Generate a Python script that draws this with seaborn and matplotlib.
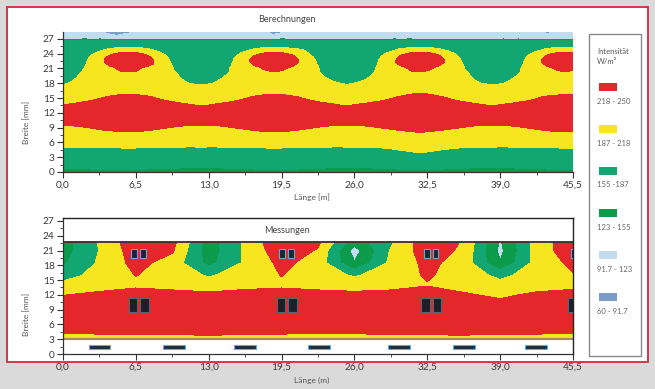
import numpy as np
import matplotlib
matplotlib.use("Agg")
import matplotlib.pyplot as plt
import matplotlib.tri as mtri
from matplotlib.patches import Rectangle
from matplotlib.ticker import FuncFormatter, MultipleLocator
import seaborn as sns

# intensity classes in W/m²
levels = [60, 91.7, 123, 155, 187, 218, 250]
band_colors = ["#7b9bcb", "#c3dbee", "#0b9b4b", "#12a673", "#f6e51f", "#e5272b"]
legend_labels = ["218 - 250", "187 - 218", "155 -187", "123 - 155", "91.7 - 123", "60 - 91.7"]

x_ticks = [0.0, 6.5, 13.0, 19.5, 26.0, 32.5, 39.0, 45.5]
y_ticks = [0, 3, 6, 9, 12, 15, 18, 21, 24, 27]

# Berechnungen (calculated field)
calc_x = [-0.65, 0.975, 2.6, 4.225, 5.85, 7.475, 9.1, 10.725, 12.35, 13.975,
          15.6, 17.225, 18.85, 20.475, 22.1, 23.725, 25.35, 26.975, 28.6, 30.225,
          31.85, 33.475, 35.1, 36.725, 38.35, 39.975, 41.6, 43.225, 44.85, 46.475]
calc_y = [0, 2.5, 4.5, 7, 9, 11, 13, 15, 17, 19, 21, 22.5, 24, 25.5, 26.6, 27.1, 28.4]
calc_z = [
    [150, 150, 151, 151, 152, 151, 150, 149, 148, 149, 150, 151, 152, 151, 150, 149, 148, 149, 150, 151, 152, 151, 150, 149, 148, 149, 150, 151, 152, 151],
    [167, 167, 168, 168, 169, 168, 168, 167, 166, 167, 168, 168, 169, 168, 168, 167, 166, 167, 168, 169, 170, 169, 168, 167, 166, 167, 168, 168, 169, 168],
    [182, 182, 183, 183, 184, 183, 183, 182, 182, 182, 183, 183, 184, 183, 183, 182, 182, 183, 184, 188, 192, 188, 184, 183, 182, 182, 183, 183, 184, 183],
    [204, 205, 206, 207, 208, 207, 206, 205, 204, 205, 206, 207, 208, 207, 206, 205, 204, 205, 206, 207, 209, 207, 206, 205, 204, 205, 206, 207, 208, 207],
    [213, 215, 219, 223, 225, 223, 219, 215, 213, 215, 219, 223, 225, 223, 219, 215, 213, 215, 219, 223, 226, 223, 219, 215, 213, 215, 219, 223, 225, 223],
    [232, 234, 237, 239, 240, 239, 237, 234, 232, 234, 237, 239, 240, 239, 237, 234, 232, 234, 237, 239, 241, 239, 237, 234, 232, 234, 237, 239, 240, 239],
    [221, 226, 231, 236, 238, 236, 231, 226, 222, 226, 231, 236, 238, 236, 231, 226, 222, 226, 231, 236, 239, 236, 231, 226, 222, 226, 231, 236, 238, 236],
    [205, 208, 214, 222, 226, 222, 214, 208, 205, 208, 214, 222, 226, 222, 214, 208, 205, 208, 214, 222, 228, 222, 214, 208, 205, 208, 214, 222, 226, 222],
    [190, 194, 199, 204, 205, 204, 199, 194, 192, 194, 199, 204, 205, 204, 199, 194, 192, 194, 199, 204, 205, 204, 199, 194, 192, 194, 199, 204, 205, 204],
    [178, 186, 198, 207, 209, 207, 198, 186, 180, 186, 198, 207, 209, 207, 198, 186, 180, 186, 198, 207, 209, 207, 198, 186, 180, 186, 198, 207, 209, 207],
    [168, 176, 197, 214, 223, 214, 197, 176, 168, 176, 197, 214, 223, 214, 197, 176, 168, 176, 197, 214, 223, 214, 197, 176, 168, 176, 197, 214, 223, 214],
    [165, 172, 194, 228, 233, 228, 194, 172, 165, 172, 194, 228, 233, 228, 194, 172, 165, 172, 194, 228, 233, 228, 194, 172, 165, 172, 194, 228, 233, 228],
    [165, 168, 185, 214, 224, 214, 185, 168, 165, 168, 185, 214, 224, 214, 185, 168, 165, 168, 185, 214, 224, 214, 185, 168, 165, 168, 185, 214, 224, 214],
    [163, 164, 168, 177, 182, 177, 168, 164, 163, 164, 168, 177, 182, 177, 168, 164, 163, 164, 168, 177, 182, 177, 168, 164, 163, 164, 168, 177, 182, 177],
    [158, 158, 159, 160, 161, 160, 159, 158, 158, 158, 159, 160, 161, 160, 159, 158, 158, 158, 159, 160, 161, 160, 159, 158, 158, 158, 159, 160, 161, 160],
    [112, 112, 113, 112, 111, 110, 111, 112, 113, 112, 111, 110, 112, 113, 112, 111, 110, 111, 112, 113, 112, 111, 110, 111, 112, 113, 112, 111, 110, 111],
    [110, 108, 104, 88, 89, 104, 108, 110, 110, 108, 106, 104, 89, 100, 106, 108, 110, 110, 108, 106, 106, 108, 110, 108, 108, 106, 102, 89, 102, 106],
]

# Messungen (measured field)
meas_x = [0, 3.25, 6.5, 9.75, 13, 16.25, 19.5, 22.75, 26, 29.25, 32.5, 35.75, 39, 42.25, 45.5]
meas_y = [3, 5, 8.5, 12, 14, 16, 18.5, 21, 22.7]
meas_z = [
    [205, 206, 205, 204, 204, 205, 206, 205, 205, 206, 205, 204, 205, 206, 205],
    [228, 229, 230, 233, 240, 231, 229, 228, 229, 230, 234, 238, 231, 229, 228],
    [240, 241, 242, 242, 242, 241, 242, 241, 240, 241, 242, 242, 240, 241, 241],
    [217, 225, 232, 228, 226, 230, 232, 228, 226, 228, 235, 222, 212, 224, 228],
    [196, 205, 212, 208, 200, 208, 212, 208, 204, 208, 216, 206, 196, 205, 210],
    [174, 198, 219, 203, 184, 200, 219, 200, 184, 200, 222, 202, 180, 200, 216],
    [150, 192, 228, 205, 145, 192, 226, 205, 125, 195, 226, 205, 125, 200, 225],
    [142, 188, 235, 222, 138, 192, 238, 215, 110, 190, 236, 212, 115, 200, 238],
    [140, 190, 240, 228, 140, 192, 245, 225, 138, 182, 240, 215, 120, 200, 240],
]

# luminaires and floor strips in the measured panel
lamp_x = [6.75, 19.95, 32.85, 45.95]
lamp_top_y = 20.35
lamp_mid_y = 9.95
strip_x = [3.25, 9.9, 16.2, 22.85, 29.95, 35.75, 42.2]
strip_y = 1.5

sns.set_theme(style="ticks")
plt.rcParams["font.family"] = ["Lato", "DejaVu Sans"]

W, H = 655, 389
fig = plt.figure(figsize=(W / 100, H / 100), dpi=100)
fig.patch.set_facecolor("#dadada")


def fx(px):
    return px / W


def fy(py):
    return 1 - py / H


fig.patches.append(Rectangle((fx(7), fy(362)), fx(648) - fx(7), fy(7) - fy(362),
                             transform=fig.transFigure, facecolor="white",
                             edgecolor="#d02a3e", lw=1.3, zorder=-10))

comma = FuncFormatter(lambda v, p: f"{v:.1f}".replace(".", ","))


def style_axes(ax, ymax, box):
    ax.set_xlim(0, 45.5)
    ax.set_ylim(0, ymax)
    ax.set_xticks(x_ticks)
    ax.xaxis.set_major_formatter(comma)
    ax.xaxis.set_minor_locator(MultipleLocator(3.25))
    ax.set_yticks(y_ticks)
    ax.yaxis.set_minor_locator(MultipleLocator(1.5))
    ax.tick_params(which="major", length=4, width=0.8, color="#333333",
                   labelsize=7.3, labelcolor="#3a3a3a", pad=2)
    ax.tick_params(which="minor", length=2.5, width=0.6, color="#333333")
    for s in ["left", "bottom"]:
        ax.spines[s].set_color("#333333")
        ax.spines[s].set_linewidth(0.9)
    for s in ["top", "right"]:
        ax.spines[s].set_visible(box)
        ax.spines[s].set_color("#222222")
        ax.spines[s].set_linewidth(1.0)


# top panel
ax1 = fig.add_axes([fx(63), fy(172), fx(573) - fx(63), fy(32) - fy(172)])
ax1.patch.set_alpha(0)
gx, gy = np.meshgrid(calc_x, calc_y)
tri = mtri.Triangulation(gx.ravel(), gy.ravel())
interp = mtri.CubicTriInterpolator(tri, np.asarray(calc_z, float).ravel(), kind="geom")
fxg, fyg = np.meshgrid(np.linspace(calc_x[0] + 0.01, calc_x[-1] - 0.01, 700),
                       np.linspace(calc_y[0] + 0.001, calc_y[-1] - 0.001, 320))
fz = np.clip(interp(fxg, fyg), 61, 249)
ax1.contourf(fxg, fyg, fz, levels=levels, colors=band_colors)
style_axes(ax1, 28.4, False)

# bottom panel
ax2 = fig.add_axes([fx(63), fy(354), fx(573) - fx(63), fy(218) - fy(354)])
ax2.set_facecolor("white")
ax2.contourf(meas_x, meas_y, meas_z, levels=levels, colors=band_colors)
ax2.axhline(meas_y[-1], color="#3b2b2b", lw=1.3)
ax2.axhline(meas_y[0], color="#a39345", lw=1.6)
for off in (-0.4, 0.4):
    ax2.bar([x + off for x in lamp_x], height=1.9, bottom=lamp_top_y - 0.95, width=0.5,
            color="#1c2430", edgecolor="#6aa6d0", lw=0.8, zorder=3)
for off in (-0.525, 0.525):
    ax2.bar([x + off for x in lamp_x], height=2.9, bottom=lamp_mid_y - 1.45, width=0.75,
            color="#1c1f28", edgecolor="#55657a", lw=0.8, zorder=3)
ax2.bar(strip_x, height=0.8, bottom=strip_y - 0.4, width=1.95,
        color="#1c2a3a", edgecolor="#5fb0d8", lw=0.8, zorder=3)
style_axes(ax2, 27.6, True)
ax2.text(0.44, 0.905, "Messungen", transform=ax2.transAxes, ha="center", va="center",
         fontsize=6.5, color="#444444")

# labels
fig.text(fx(287), fy(19), "Berechnungen", ha="center", va="center", fontsize=6.5, color="#444444")
fig.text(fx(312), fy(197), "Länge [m]", ha="center", va="center", fontsize=6, color="#555555")
fig.text(fx(312), fy(380), "Länge (m)", ha="center", va="center", fontsize=6, color="#555555")
fig.text(fx(27), fy(122), "Breite [mm]", rotation=90, ha="center", va="center", fontsize=6, color="#555555")
fig.text(fx(27), fy(314), "Breite [mm]", rotation=90, ha="center", va="center", fontsize=6, color="#555555")

# legend
fig.patches.append(Rectangle((fx(589), fy(356)), fx(641) - fx(589), fy(34) - fy(356),
                             transform=fig.transFigure, facecolor="white",
                             edgecolor="#8a8a8a", lw=1.0, zorder=1))
fig.text(fx(597), fy(52), "Intensität", fontsize=5.5, color="#555555", va="center")
fig.text(fx(597), fy(62), "W/m²", fontsize=5.5, color="#555555", va="center")
for i, (lab, col) in enumerate(zip(legend_labels, band_colors[::-1])):
    yc = 87 + 42 * i
    fig.patches.append(Rectangle((fx(599), fy(yc + 4)), fx(617) - fx(599), fy(yc - 4) - fy(yc + 4),
                                 transform=fig.transFigure, facecolor=col, edgecolor="none", zorder=2))
    fig.text(fx(597), fy(yc + 14), lab, fontsize=5.5, color="#666666", va="center")

fig.savefig("out.png", dpi=100, facecolor=fig.get_facecolor())
